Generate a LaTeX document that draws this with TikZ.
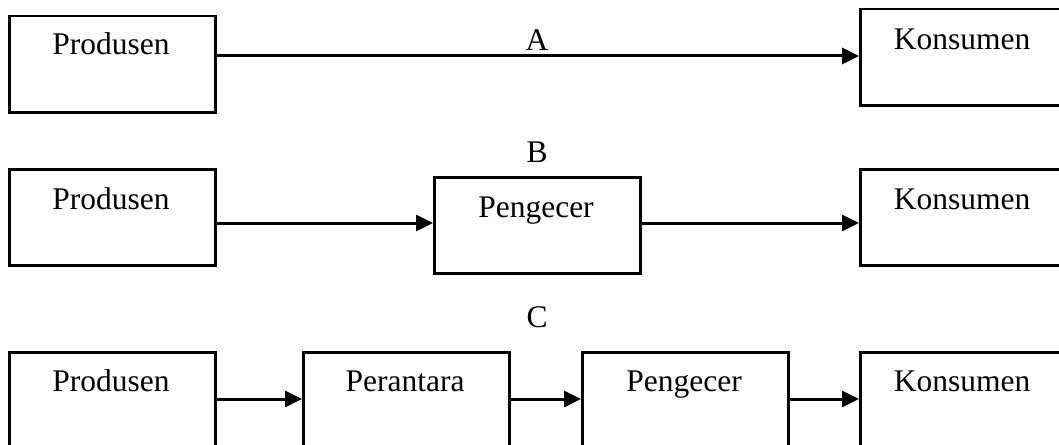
\documentclass[tikz,border=0pt]{standalone}
\usepackage{fontspec}
\setmainfont{Liberation Serif}
\usetikzlibrary{arrows.meta}
\tikzset{
  box/.style={draw=black, line width=2.5pt, fill=white, inner sep=0pt, anchor=north west, minimum width=206pt, minimum height=96pt},
  lbl/.style={anchor=base, inner sep=0pt, font=\fontsize{31.5pt}{36pt}\selectfont},
  arr/.style={line width=3pt, -{Triangle[length=17pt,width=16pt]}}
}
\begin{document}
\begin{tikzpicture}[x=1pt,y=-1pt]
\useasboundingbox (0,0) rectangle (1059,444);
\clip (0,0) rectangle (1059,444);
% Row A
\node[box] (pA) at (8,15) {};
\node[box] (kA) at (859,8) {};
\node[lbl] (tpA) at (111,55) {Produsen};
\node[lbl] (tkA) at (962,50) {Konsumen};
\node[lbl] (la) at (537,51) {A};
\draw[arr] (pA.east |- 0,56) -- (kA.west |- 0,56);
% Row B
\node[box] (pB) at (8,168) {};
\node[box] (gB) at (433,176) {};
\node[box] (kB) at (859,168) {};
\node[lbl] (tpB) at (111,209) {Produsen};
\node[lbl] (tgB) at (536,217) {Pengecer};
\node[lbl] (tkB) at (962,209) {Konsumen};
\node[lbl] (lb) at (537,162) {B};
\draw[arr] (pB.east |- 0,223) -- (gB.west |- 0,223);
\draw[arr] (gB.east |- 0,223) -- (kB.west |- 0,223);
% Row C
\node[box] (pC) at (8,351) {};
\node[box] (rC) at (302,351) {};
\node[box] (gC) at (581,351) {};
\node[box] (kC) at (859,351) {};
\node[lbl] (tpC) at (111,391) {Produsen};
\node[lbl] (trC) at (405,391) {Perantara};
\node[lbl] (tgC) at (684,391) {Pengecer};
\node[lbl] (tkC) at (962,391) {Konsumen};
\node[lbl] (lc) at (537,327) {C};
\draw[arr] (pC.east |- 0,399) -- (rC.west |- 0,399);
\draw[arr] (rC.east |- 0,399) -- (gC.west |- 0,399);
\draw[arr] (gC.east |- 0,399) -- (kC.west |- 0,399);
\end{tikzpicture}
\end{document}
